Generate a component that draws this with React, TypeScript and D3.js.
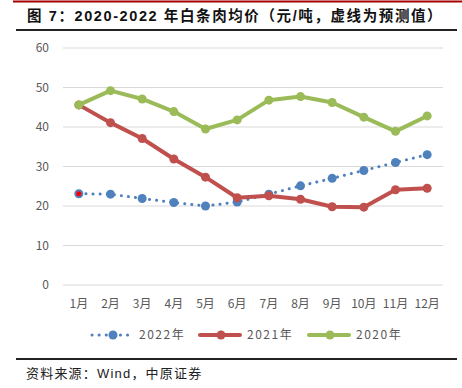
import React from 'react';
import * as d3 from 'd3';

const months = ['1月', '2月', '3月', '4月', '5月', '6月', '7月', '8月', '9月', '10月', '11月', '12月'];
const price2022 = [23.1, 23.0, 21.9, 20.9, 20.0, 21.0, 23.0, 25.1, 27.0, 29.0, 31.0, 33.0];
const price2021 = [45.6, 41.1, 37.1, 31.9, 27.3, 22.1, 22.6, 21.7, 19.8, 19.7, 24.1, 24.5];
const price2020 = [45.6, 49.2, 47.1, 43.9, 39.5, 41.8, 46.8, 47.7, 46.2, 42.5, 38.9, 42.8];
const yTicks = [0, 10, 20, 30, 40, 50, 60];
const legendNames = ['2022年', '2021年', '2020年'];

const BLUE = '#4F81BD';
const RED = '#C0504D';
const GREEN = '#9BBB59';
const FONT = '"Noto Sans CJK SC", "Noto Sans", sans-serif';
const TITLE_FONT = '"Liberation Sans", "Noto Sans CJK SC", sans-serif';

export default function App() {
  const width = 462;
  const height = 388;
  const left = 63;
  const right = 443;
  const top = 48;
  const bottom = 285;

  const x = d3.scaleBand<string>().domain(months).range([left, right]);
  const y = d3.scaleLinear().domain([0, 60]).range([bottom, top]);
  const cx = (m: string) => (x(m) as number) + x.bandwidth() / 2;

  const line = d3.line<number>()
    .x((_, i) => cx(months[i]))
    .y((d) => y(d));

  const series = [
    { name: legendNames[0], values: price2022, color: BLUE, dashed: true },
    { name: legendNames[1], values: price2021, color: RED, dashed: false },
    { name: legendNames[2], values: price2020, color: GREEN, dashed: false },
  ];

  const legendX = [92, 200, 309];

  return (
    <svg width={width} height={height} style={{ position: 'absolute', left: 0, top: 0, background: '#fff' }}>
      <line x1={13} x2={462} y1={1.5} y2={1.5} stroke="#A50000" strokeWidth={2} />
      <text x={27} y={21} fontFamily={TITLE_FONT} fontSize={14.5} fontWeight="bold" letterSpacing={1.6} fill="#111">
        图 7：2020-2022 年白条肉均价（元/吨，虚线为预测值）
      </text>
      <line x1={16} x2={457} y1={30} y2={30} stroke="#222" strokeWidth={2} />

      {yTicks.map((t) => (
        <g key={t}>
          <line x1={left} x2={right} y1={y(t)} y2={y(t)} stroke="#D9D9D9" strokeWidth={1} />
          <text x={49} y={y(t)} dy="0.35em" textAnchor="end" fontFamily={FONT} fontSize={12} fill="#595959">
            {t}
          </text>
        </g>
      ))}

      {months.map((m) => (
        <text key={m} x={cx(m)} y={308} textAnchor="middle" fontFamily={FONT} fontSize={12} fill="#595959">
          {m}
        </text>
      ))}

      {series.map((s) => (
        <g key={s.name}>
          <path
            d={line(s.values) || ''}
            fill="none"
            stroke={s.color}
            strokeWidth={s.dashed ? 3 : 4}
            strokeDasharray={s.dashed ? '0.1 7' : undefined}
            strokeLinecap="round"
            strokeLinejoin="round"
          />
          {s.values.map((v, i) => (
            <circle
              key={i}
              cx={cx(months[i])}
              cy={y(v)}
              r={s.dashed && i === 0 ? 3.5 : 4.5}
              fill={s.dashed && i === 0 ? '#FF0000' : s.color}
              stroke={s.color}
              strokeWidth={s.dashed && i === 0 ? 2 : 0}
            />
          ))}
        </g>
      ))}

      {series.map((s, i) => (
        <g key={s.name} transform={`translate(${legendX[i]},335)`}>
          <line
            x1={0}
            x2={40}
            y1={0}
            y2={0}
            stroke={s.color}
            strokeWidth={s.dashed ? 3 : 4}
            strokeDasharray={s.dashed ? '0.1 7' : undefined}
            strokeLinecap="round"
          />
          <circle cx={21} cy={0} r={4.5} fill={s.color} />
          <text x={47} y={0} dy="0.35em" fontFamily={FONT} fontSize={12} letterSpacing={1.5} fill="#595959">
            {s.name}
          </text>
        </g>
      ))}

      <line x1={16} x2={457} y1={359} y2={359} stroke="#222" strokeWidth={2} />
      <text x={26} y={378} fontFamily={TITLE_FONT} fontSize={13} letterSpacing={1.2} fill="#222">
        资料来源：Wind，中原证券
      </text>
    </svg>
  );
}
